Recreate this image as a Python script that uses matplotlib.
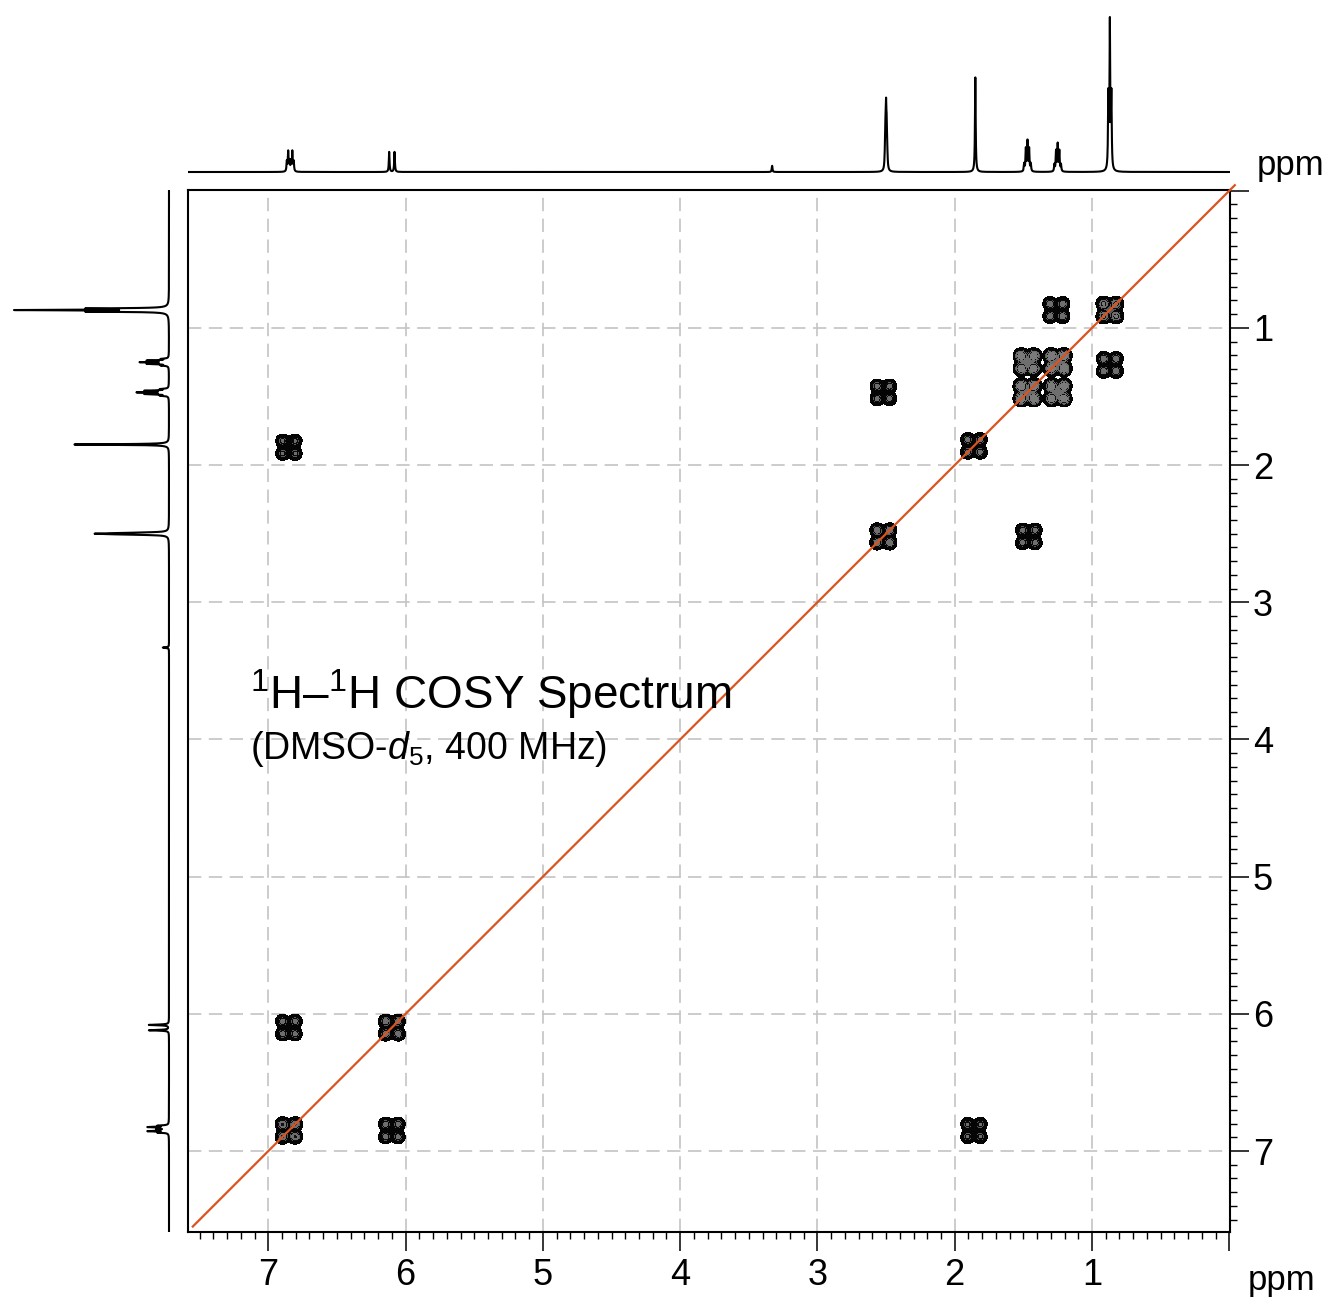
import matplotlib
matplotlib.use('Agg')
import matplotlib.pyplot as plt
import numpy as np
from matplotlib.ticker import MultipleLocator, FixedLocator, FuncFormatter

plt.rcParams['font.family'] = ['Liberation Sans', 'DejaVu Sans']
plt.rcParams['mathtext.fontset'] = 'custom'
plt.rcParams['mathtext.rm'] = 'Liberation Sans'
plt.rcParams['mathtext.it'] = 'Liberation Sans:italic'

# 1H projection: shift (ppm), relative height, multiplet, line spacing (ppm)
h_shift = [6.84, 6.10, 3.33, 2.50, 1.85, 1.47, 1.25, 0.87]
h_height = [0.14, 0.13, 0.04, 0.48, 0.61, 0.21, 0.19, 1.00]
h_mult = ['dt', 'd', 's', 'quint', 's', 'm', 'm', 't']
h_j = [0.010, 0.039, 0.0, 0.0045, 0.0, 0.012, 0.012, 0.011]

# COSY cross / diagonal peaks: F2 (horizontal), F1 (vertical), intensity
cosy_f2 = [0.87, 1.26, 0.87, 1.47, 1.25, 1.47, 1.25, 2.52, 6.85, 1.86, 2.52, 1.46, 6.85, 6.10, 6.85, 6.10, 1.86]
cosy_f1 = [0.87, 0.87, 1.27, 1.47, 1.25, 1.25, 1.47, 1.47, 1.87, 1.86, 2.52, 2.52, 6.10, 6.10, 6.85, 6.85, 6.85]
cosy_amp = [1.5, 1.1, 1.1, 2.4, 2.4, 2.2, 2.2, 1.0, 0.9, 1.0, 1.2, 1.0, 1.0, 1.1, 1.3, 1.0, 0.9]

tick_ppm = [0, 1, 2, 3, 4, 5, 6, 7]

patterns = {'s': [1], 'd': [1, 1], 't': [1, 2, 1], 'quint': [1, 4, 6, 4, 1],
            'm': [1, 3, 4, 3, 1], 'dt': [1, 2, 1, 1, 2, 1]}

W, H = 1331, 1303
fig = plt.figure(figsize=(W / 100, H / 100), dpi=100)


def px(x0, y0, x1, y1):
    # pixel box (left, top, right, bottom) -> figure fraction rect
    return [x0 / W, 1 - y1 / H, (x1 - x0) / W, (y1 - y0) / H]


def lorentz(x, x0, w=0.003):
    return 1.0 / (1.0 + ((x - x0) / w) ** 2)


def gauss(v, c, s):
    return np.exp(-(v - c) ** 2 / (2 * s ** 2))


ppm = np.linspace(-0.01, 7.6, 30000)
spec = np.zeros_like(ppm)
for s, h, m, j in zip(h_shift, h_height, h_mult, h_j):
    w = np.array(patterns[m], dtype=float)
    n = len(w)
    line = np.zeros_like(ppm)
    for k in range(n):
        line += w[k] * lorentz(ppm, s + (k - (n - 1) / 2) * j)
    spec += h * line / line.max()

XL = (7.585, -0.005)
YL = (7.59, -0.005)

# main 2D panel
ax = fig.add_axes(px(188, 190, 1230, 1232))
ax.set_xlim(*XL)
ax.set_ylim(*YL)

f = np.linspace(-0.01, 7.6, 1600)
Z = np.zeros((len(f), len(f)))
d, sig, sc, e = 0.046, 0.022, 0.02, 0.01
for x0, y0, a in zip(cosy_f2, cosy_f1, cosy_amp):
    # four lobes, each split into a small doublet in both dimensions
    gx = sum(gauss(f, x0 + sx * d + tx * e, sig) for sx in (-1, 1) for tx in (-1, 1))
    gy = sum(gauss(f, y0 + sy * d + ty * e, sig) for sy in (-1, 1) for ty in (-1, 1))
    cx = gauss(f, x0, sc)
    cy = gauss(f, y0, sc)
    Z += a * (0.4 * np.outer(gy, gx) + 0.45 * np.outer(cy, cx))

ax.contourf(f, f, Z, levels=[0.14, 0.8, 0.9, 1.1, 1.6, 1.8, 100],
            colors=['#050505', '#5a5a5a', '#0a0a0a', '#6e6e6e', '#101010', '#7a7a7a'],
            zorder=2)

ax.plot([7.55, -0.04], [7.55, -0.04], color='#d9541e', lw=1.6,
        clip_on=False, zorder=3)

for v in tick_ppm[1:]:
    ax.axvline(v, color='#c4c4c4', lw=1.2, ls=(0, (8, 4.5)), zorder=1)
    ax.axhline(v, color='#c4c4c4', lw=1.2, ls=(0, (8, 4.5)), zorder=1)

ax.yaxis.tick_right()
ax.xaxis.tick_bottom()
for a in (ax.xaxis, ax.yaxis):
    a.set_major_locator(FixedLocator(tick_ppm))
    a.set_minor_locator(MultipleLocator(0.1))
    a.set_major_formatter(FuncFormatter(lambda v, p: '' if v < 0.5 else '%d' % v))
ax.tick_params(which='major', direction='out', length=13.5, width=1.1,
               labelsize=26, pad=5)
ax.tick_params(which='minor', direction='out', length=5, width=1.0)
ax.tick_params(axis='y', pad=3)
for sp in ax.spines.values():
    sp.set_linewidth(1.5)

ax.text(7.13, 3.78, '$^{1}$H\u2013$^{1}$H COSY Spectrum', fontsize=33,
        ha='left', va='baseline', zorder=4)
ax.text(7.13, 4.14, r'(DMSO-$d_{5}$, 400 MHz)', fontsize=27,
        ha='left', va='baseline', zorder=4)

# top projection
axt = fig.add_axes(px(188, 8, 1230, 176))
axt.plot(ppm, spec, color='black', lw=1.5)
axt.set_xlim(*XL)
axt.set_ylim(-4 / 155, 164 / 155)
axt.axis('off')

# left projection
axl = fig.add_axes(px(8, 190, 172, 1232))
axl.plot(spec, ppm, color='black', lw=1.5)
axl.set_xlim(161 / 155, -3 / 155)
axl.set_ylim(*YL)
axl.axis('off')

fig.text(1257 / W, 1 - 175 / H, 'ppm', fontsize=25, ha='left', va='baseline')
fig.text(1248 / W, 1 - 1290 / H, 'ppm', fontsize=25, ha='left', va='baseline')

fig.savefig('out.png', dpi=100)
